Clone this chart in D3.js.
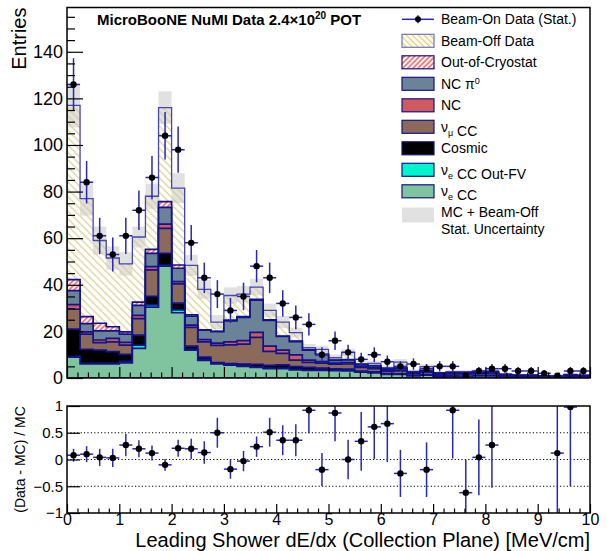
<!DOCTYPE html>
<html>
<head>
<meta charset="utf-8">
<script src="https://cdn.jsdelivr.net/npm/d3@7"></script>
<style>
  body { margin: 0; background: #fff; }
  svg { font-family: "Liberation Sans", Arial, Helvetica, sans-serif; }
</style>
</head>
<body>
<svg width="607" height="551"></svg>
<script>
// 40 bins of 0.25 MeV/cm between 0 and 10
let binWidth = 0.25;
let binLow = d3.range(40).map(i => i * binWidth);

let beamOnData = [126, 84, 61, 53, 61, 72, 86, 104, 98, 58, 43, 36, 29, 35, 48, 43, 32, 26, 23, 10,
  16, 11, 8, 10, 7, 5, 6, 4, 5, 5, 1, 3, 4, 4, 3, 3, 2, 1, 3, 3];

// stack components, bottom to top
let nueCC = [9, 6, 6, 6, 6.5, 12.7, 30.4, 48, 28, 12, 7.6, 6, 5.5, 5, 4.5, 4, 4, 3.5, 3.3, 3.3,
  3.2, 3.1, 2.5, 2.2, 1.5, 1.5, 0.9, 1.2, 0.7, 0.8, 0.8, 0.9, 0.9, 0.5, 0.4, 0.4, 0.3, 0.3, 0.4, 0.3];
let nueOutFV = [0.3, 0.3, 0.3, 0.3, 0.6, 1.4, 1, 0.5, 1.2, 0.3, 0.4, 0.3, 0.2, 0.2, 0.2, 0.2, 0.2, 0.2, 0.1, 0.1,
  0.1, 0.1, 0.1, 0.1, 0.1, 0.1, 0.05, 0.1, 0.05, 0.05, 0.05, 0.05, 0.05, 0.02, 0.02, 0.02, 0.02, 0.02, 0.02, 0.02];
let cosmic = [11.7, 6, 5.7, 5, 3, 4.3, 3.6, 5, 2.9, 1.4, 1, 0.3, 0.5, 0.8, 1.2, 1.2, 1.4, 1.2, 1.2, 0.8,
  0.6, 0.6, 0.4, 0.3, 0.3, 0.2, 0.2, 0.2, 0.2, 0.2, 0.2, 0.2, 0.2, 0.1, 0.1, 0.1, 0.1, 0.1, 0.1, 0.1];
let numuCC = [8.5, 6.5, 3.2, 4.2, 4, 7.1, 11.4, 10.7, 8.3, 8, 6.5, 7.4, 8, 8.5, 11.5, 6, 5, 2.8, 2.1, 2.2,
  2, 2.2, 1.5, 1.4, 1, 1.3, 0.7, 1, 0.6, 0.7, 0.7, 0.8, 0.8, 0.4, 0.3, 0.3, 0.2, 0.2, 0.3, 0.3];
let nc = [2, 1, 1.1, 1.5, 1.2, 1.4, 1.4, 1.8, 1, 1, 1, 1, 1.3, 1.5, 2.2, 2.3, 1.4, 2.2, 1, 0.6,
  0.5, 0.6, 0.3, 0.4, 0.3, 0.3, 0.2, 0.2, 0.2, 0.2, 0.2, 0.2, 0.2, 0.1, 0.1, 0.1, 0.1, 0.1, 0.1, 0.1];
let ncPi0 = [6, 3.5, 3.9, 3.2, 3.5, 4.3, 5.7, 7.2, 5.7, 3.8, 4, 4.9, 9, 10, 13.8, 11, 5.8, 5.7, 4.3, 3,
  1.2, 1.2, 0.8, 0.8, 0.6, 0.8, 0.4, 0.5, 0.3, 0.4, 0.4, 0.4, 0.5, 0.3, 0.2, 0.2, 0.1, 0.1, 0.3, 0.2];
let outOfCryo = [4.7, 3, 3.3, 1.8, 1, 1.4, 1.7, 2.5, 1.4, 0.6, 0.2, 0.1, 0.3, 0.3, 0.3, 0.3, 0.2, 0.2, 0.2, 0.2,
  0.1, 0.1, 0.1, 0.1, 0, 0.1, 0, 0, 0, 0, 0, 0, 0, 0, 0, 0, 0, 0, 0, 0];
let beamOff = [74.8, 50.7, 35.5, 29.5, 29.2, 27.9, 22.8, 40.3, 33, 21.2, 17.3, 4, 10.6, 9.7, 5.3, 4, 6, 3.7, 0.8, 2.1,
  1, 3.1, 0.5, 1, 0.6, 2.5, 0.35, 1.7, 0.15, 0.25, 0.25, 0.35, 0.45, 0.2, 0.2, 0.1, 0.1, 0.1, 0.3, 0.2];

// MC + beam-off stat. uncertainty (half width)
let mcStatErr = [9.5, 7.3, 6, 5, 5, 4.5, 5.4, 7, 6.4, 4.5, 4, 3, 3.5, 3.5, 3.6, 2.9, 2.6, 2.1, 1.6, 1.5,
  1.4, 1.5, 1.1, 1.2, 1, 1.3, 0.8, 1, 0.7, 0.8, 0.8, 0.8, 0.8, 0.6, 0.5, 0.5, 0.5, 0.5, 0.6, 0.5];

// (Data - MC) / MC, null where the point falls off the pad
let ratioValues = [0.08, 0.1, 0.04, 0.03, 0.27, 0.2, 0.12, -0.1, 0.21, 0.2, 0.13, 0.5, -0.18, -0.03, 0.24, 0.51, 0.36, 0.36, 0.92, -0.19,
  0.87, 0.0, 0.34, 0.61, 0.67, -0.26, null, -0.19, null, 0.92, -0.62, 0.04, 0.27, null, null, null, null, 0.12, 0.98, null];
let ratioErrors = [0.12, 0.15, 0.16, 0.17, 0.21, 0.16, 0.14, 0.11, 0.16, 0.19, 0.21, 0.28, 0.18, 0.19, 0.19, 0.27, 0.28, 0.3, 0.43, 0.31,
  0.53, 0.37, 0.55, 0.6, 0.72, 0.44, null, 0.51, null, 0.9, 0.62, 0.71, 0.8, null, null, null, null, 1.2, 1.48, null];

let yTicksTop = [0, 20, 40, 60, 80, 100, 120, 140];
let yTicksRatio = [-1, -0.5, 0, 0.5, 1];
let xTicks = d3.range(0, 11);

let layerKeys = ["nueCC", "nueOutFV", "cosmic", "numuCC", "nc", "ncPi0", "outOfCryo", "beamOff"];
let layerData = { nueCC, nueOutFV, cosmic, numuCC, nc, ncPi0, outOfCryo, beamOff };

let navy = "#12128c";
let errBlue = "#2828b4";
let colors = {
  nueCC: "#7fc49f",
  nueOutFV: "#00f5cc",
  cosmic: "#000000",
  numuCC: "#8c6a5a",
  nc: "#cf5a5f",
  ncPi0: "#6a8398",
  outOfCryo: "url(#hatch-red)",
  beamOff: "url(#hatch-khaki)"
};

let svg = d3.select("svg");
let defs = svg.append("defs");

function hatch(id, angle, color, gap, bg) {
  let p = defs.append("pattern")
    .attr("id", id)
    .attr("patternUnits", "userSpaceOnUse")
    .attr("width", gap)
    .attr("height", gap)
    .attr("patternTransform", "rotate(" + angle + ")");
  if (bg) p.append("rect").attr("width", gap).attr("height", gap).attr("fill", bg);
  p.append("line")
    .attr("x1", gap / 2).attr("x2", gap / 2)
    .attr("y1", 0).attr("y2", gap)
    .attr("stroke", color)
    .attr("stroke-width", 1.1);
}
hatch("hatch-khaki", -45, "#d6ca86", 5.2, null);
hatch("hatch-red", 45, "#ff1a1a", 3.6, "#ffffff");
hatch("hatch-khaki-leg", -45, "#d6ca86", 4.2, "#fffde8");

// scales
var x = d3.scaleLinear().domain([0, 10]).range([67, 590]);
var y = d3.scaleLinear().domain([0, 159]).range([378, 7.5]);
var yr = d3.scaleLinear().domain([-1, 1]).range([513, 406]);

defs.append("clipPath").attr("id", "clip-top").append("rect")
  .attr("x", x(0)).attr("y", y(159)).attr("width", x(10) - x(0)).attr("height", y(0) - y(159));
defs.append("clipPath").attr("id", "clip-bot").append("rect")
  .attr("x", x(0)).attr("y", yr(1)).attr("width", x(10) - x(0)).attr("height", yr(-1) - yr(1));

// ---------- upper pad ----------
let rows = binLow.map((b, i) => {
  let r = { x0: b };
  layerKeys.forEach(k => (r[k] = layerData[k][i]));
  return r;
});
let series = d3.stack().keys(layerKeys)(rows);
let total = series[series.length - 1].map(d => d[1]);

let topPad = svg.append("g").attr("clip-path", "url(#clip-top)");

// stat. uncertainty band
topPad.selectAll(".unc")
  .data(binLow)
  .join("rect")
  .attr("class", "unc")
  .attr("x", d => x(d))
  .attr("width", x(binWidth) - x(0))
  .attr("y", (d, i) => y(total[i] + mcStatErr[i]))
  .attr("height", (d, i) => y(total[i] - mcStatErr[i]) - y(total[i] + mcStatErr[i]))
  .attr("fill", "#e1e1e1");

var stepArea = d3.area()
  .curve(d3.curveStepAfter)
  .x(d => x(d.x0))
  .y0(y(0))
  .y1(d => y(d.top));

// ROOT paints the stack from the top histogram down
series.slice().reverse().forEach(s => {
  let pts = s.map(d => ({ x0: d.data.x0, top: d[1] }));
  pts.push({ x0: 10, top: pts[pts.length - 1].top });
  topPad.append("path")
    .attr("d", stepArea(pts))
    .attr("fill", colors[s.key])
    .attr("stroke", s.key === "beamOff" ? "#4646b0" : navy)
    .attr("stroke-width", s.key === "beamOff" ? 1.3 : 1.7)
    .attr("stroke-linejoin", "miter");
});

// beam-on data points
let dataG = topPad.append("g");
dataG.selectAll(".ex")
  .data(beamOnData)
  .join("line")
  .attr("x1", (d, i) => x(binLow[i]))
  .attr("x2", (d, i) => x(binLow[i] + binWidth))
  .attr("y1", d => y(d))
  .attr("y2", d => y(d))
  .attr("stroke", errBlue)
  .attr("stroke-width", 1.5);
dataG.selectAll(".ey")
  .data(beamOnData)
  .join("line")
  .attr("x1", (d, i) => x(binLow[i] + binWidth / 2))
  .attr("x2", (d, i) => x(binLow[i] + binWidth / 2))
  .attr("y1", d => y(d + Math.sqrt(d)))
  .attr("y2", d => y(d - Math.sqrt(d)))
  .attr("stroke", errBlue)
  .attr("stroke-width", 1.5);
dataG.selectAll("circle")
  .data(beamOnData)
  .join("circle")
  .attr("cx", (d, i) => x(binLow[i] + binWidth / 2))
  .attr("cy", d => y(d))
  .attr("r", 3.2)
  .attr("fill", "#000");

// axes, ticks inside like ROOT
function styleAxis(g, size) {
  g.select(".domain").remove();
  g.selectAll("line").attr("stroke", "#000").attr("stroke-width", 1.2);
  g.selectAll("text")
    .attr("font-family", "'Liberation Sans', Arial, sans-serif")
    .attr("font-size", size)
    .attr("fill", "#000");
}

svg.append("g")
  .attr("transform", "translate(" + x(0) + ",0)")
  .call(d3.axisLeft(y).tickValues(yTicksTop).tickSize(-16).tickPadding(4).tickFormat(d3.format("d")))
  .call(g => styleAxis(g, 18));
svg.append("g")
  .attr("transform", "translate(" + x(0) + ",0)")
  .call(d3.axisLeft(y).tickValues(d3.range(0, 159, 5).filter(v => v % 20 !== 0)).tickSize(-8).tickFormat(""))
  .call(g => styleAxis(g, 10));

svg.append("g")
  .attr("transform", "translate(0," + y(0) + ")")
  .call(d3.axisBottom(x).tickValues(xTicks).tickSize(-11).tickFormat(""))
  .call(g => styleAxis(g, 10));
svg.append("g")
  .attr("transform", "translate(0," + y(0) + ")")
  .call(d3.axisBottom(x).tickValues(d3.range(0, 50).map(i => i * 0.2).filter((v, i) => i % 5 !== 0)).tickSize(-5.5).tickFormat(""))
  .call(g => styleAxis(g, 10));

svg.append("rect")
  .attr("x", x(0)).attr("y", y(159))
  .attr("width", x(10) - x(0)).attr("height", y(0) - y(159))
  .attr("fill", "none").attr("stroke", "#000").attr("stroke-width", 1.5);

svg.append("text")
  .attr("transform", "translate(26," + y(159) + ") rotate(-90)")
  .attr("text-anchor", "end")
  .attr("font-size", 20)
  .text("Entries");

// title
let title = svg.append("text")
  .attr("x", 97).attr("y", 25)
  .attr("font-size", 15).attr("font-weight", "bold");
title.append("tspan").text("MicroBooNE NuMI Data 2.4\u00d710");
title.append("tspan").attr("dy", -6).attr("font-size", 10).text("20");
title.append("tspan").attr("dy", 6).text(" POT");

// legend
let legendItems = [
  { key: "data", label: [["Beam-On Data (Stat.)"]] },
  { key: "beamOff", label: [["Beam-Off Data"]] },
  { key: "outOfCryo", label: [["Out-of-Cryostat"]] },
  { key: "ncPi0", label: [["NC \u03c0"], ["0", "sup"]] },
  { key: "nc", label: [["NC"]] },
  { key: "numuCC", label: [["\u03bd"], ["\u03bc", "sub"], [" CC"]] },
  { key: "cosmic", label: [["Cosmic"]] },
  { key: "nueOutFV", label: [["\u03bd"], ["e", "sub"], [" CC Out-FV"]] },
  { key: "nueCC", label: [["\u03bd"], ["e", "sub"], [" CC"]] }
];
let legend = svg.append("g").attr("font-size", 14);
legendItems.forEach((item, i) => {
  let cy = 19.3 + i * 21.5;
  if (item.key === "data") {
    legend.append("line").attr("x1", 402).attr("x2", 434).attr("y1", cy).attr("y2", cy)
      .attr("stroke", errBlue).attr("stroke-width", 1.5);
    legend.append("line").attr("x1", 418).attr("x2", 418).attr("y1", cy - 4).attr("y2", cy + 4)
      .attr("stroke", errBlue).attr("stroke-width", 1.5);
    legend.append("circle").attr("cx", 418).attr("cy", cy).attr("r", 3).attr("fill", "#000");
  } else {
    legend.append("rect")
      .attr("x", 402).attr("y", cy - 6.5).attr("width", 32).attr("height", 13)
      .attr("fill", item.key === "beamOff" ? "url(#hatch-khaki-leg)" : colors[item.key])
      .attr("stroke", item.key === "beamOff" ? "#7070c0" : navy)
      .attr("stroke-width", 1.2);
  }
  let t = legend.append("text").attr("x", 441).attr("y", cy + 5);
  item.label.forEach(part => {
    let sp = t.append("tspan").text(part[0]);
    if (part[1] === "sup") sp.attr("dy", -5).attr("font-size", 9);
    if (part[1] === "sub") sp.attr("dy", 4).attr("font-size", 9);
    if (part[1]) t.append("tspan").attr("dy", part[1] === "sup" ? 5 : -4).text("");
  });
});
legend.append("rect")
  .attr("x", 402).attr("y", 207.5).attr("width", 32).attr("height", 15)
  .attr("fill", "#e1e1e1");
legend.append("text").attr("x", 441).attr("y", 216.7).text("MC + Beam-Off");
legend.append("text").attr("x", 441).attr("y", 234.3).text("Stat. Uncertainty");

// ---------- ratio pad ----------
svg.append("g")
  .selectAll("line")
  .data([-0.5, 0, 0.5])
  .join("line")
  .attr("x1", x(0)).attr("x2", x(10))
  .attr("y1", d => yr(d)).attr("y2", d => yr(d))
  .attr("stroke", "#000").attr("stroke-width", 1)
  .attr("stroke-dasharray", "1.2,2.2");

let ratioPts = binLow
  .map((b, i) => ({ b: b, r: ratioValues[i], e: ratioErrors[i] }))
  .filter(d => d.r !== null);

let botPad = svg.append("g").attr("clip-path", "url(#clip-bot)");
botPad.selectAll(".rx")
  .data(ratioPts)
  .join("line")
  .attr("x1", d => x(d.b)).attr("x2", d => x(d.b + binWidth))
  .attr("y1", d => yr(d.r)).attr("y2", d => yr(d.r))
  .attr("stroke", errBlue).attr("stroke-width", 1.5);
botPad.selectAll(".ry")
  .data(ratioPts)
  .join("line")
  .attr("x1", d => x(d.b + binWidth / 2)).attr("x2", d => x(d.b + binWidth / 2))
  .attr("y1", d => yr(d.r + d.e)).attr("y2", d => yr(d.r - d.e))
  .attr("stroke", errBlue).attr("stroke-width", 1.5);
botPad.selectAll("circle")
  .data(ratioPts)
  .join("circle")
  .attr("cx", d => x(d.b + binWidth / 2))
  .attr("cy", d => yr(d.r))
  .attr("r", 3.2)
  .attr("fill", "#000");

svg.append("g")
  .attr("transform", "translate(" + x(0) + ",0)")
  .call(d3.axisLeft(yr).tickValues(yTicksRatio).tickSize(-13).tickPadding(4).tickFormat(d3.format("~g")))
  .call(g => styleAxis(g, 15));

svg.append("g")
  .attr("transform", "translate(0," + yr(-1) + ")")
  .call(d3.axisBottom(x).tickValues(xTicks).tickSize(-9).tickPadding(1).tickFormat(d3.format("d")))
  .call(g => styleAxis(g, 16));
svg.append("g")
  .attr("transform", "translate(0," + yr(-1) + ")")
  .call(d3.axisBottom(x).tickValues(d3.range(0, 50).map(i => i * 0.2).filter((v, i) => i % 5 !== 0)).tickSize(-4.5).tickFormat(""))
  .call(g => styleAxis(g, 10));

svg.append("rect")
  .attr("x", x(0)).attr("y", yr(1))
  .attr("width", x(10) - x(0)).attr("height", yr(-1) - yr(1))
  .attr("fill", "none").attr("stroke", "#000").attr("stroke-width", 1.5);

svg.append("text")
  .attr("transform", "translate(25," + yr(0) + ") rotate(-90)")
  .attr("text-anchor", "middle")
  .attr("font-size", 14)
  .text("(Data - MC) / MC");

svg.append("text")
  .attr("x", x(10)).attr("y", 547.3)
  .attr("text-anchor", "end")
  .attr("font-size", 20)
  .text("Leading Shower dE/dx (Collection Plane) [MeV/cm]");
</script>
</body>
</html>
